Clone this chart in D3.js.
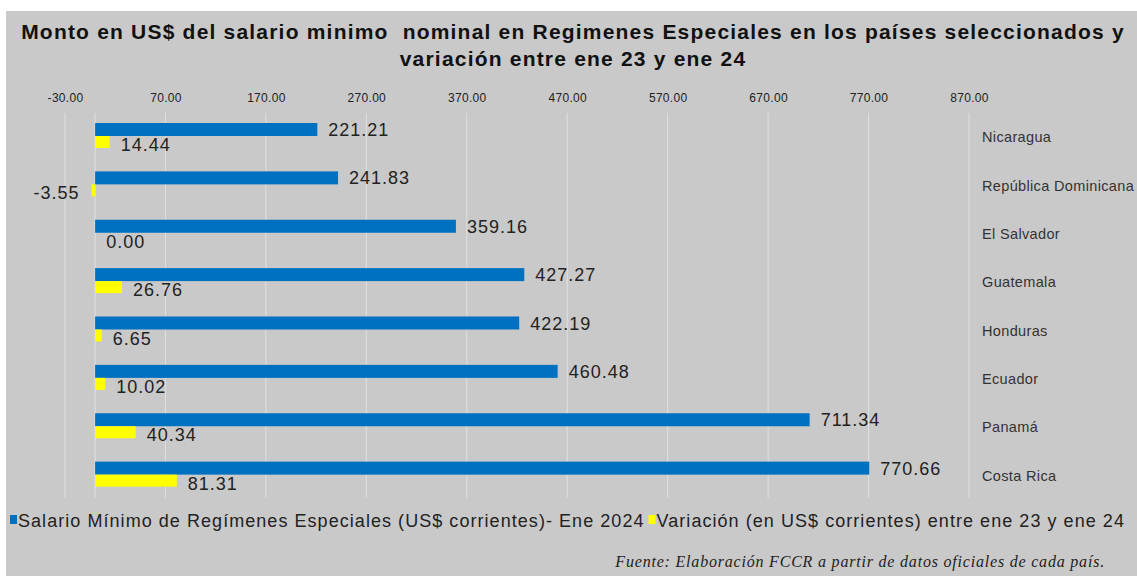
<!DOCTYPE html>
<html>
<head>
<meta charset="utf-8">
<script src="https://cdn.jsdelivr.net/npm/d3@7"></script>
<style>
  body { margin: 0; background: #fff; }
  svg { display: block; }
</style>
</head>
<body>
<div id="chart"></div>
<script>
var countries = ["Nicaragua", "República Dominicana", "El Salvador", "Guatemala", "Honduras", "Ecuador", "Panamá", "Costa Rica"];
var salario = [221.21, 241.83, 359.16, 427.27, 422.19, 460.48, 711.34, 770.66];
var variacion = [14.44, -3.55, 0.00, 26.76, 6.65, 10.02, 40.34, 81.31];
var x_ticks = [-30, 70, 170, 270, 370, 470, 570, 670, 770, 870];
var series_names = ["Salario Mínimo de Regímenes Especiales (US$ corrientes)- Ene 2024",
                    "Variación (en US$ corrientes) entre ene 23 y ene 24"];
var series_colors = ["#0070c0", "#ffff00"];

var width = 1137;
var height = 576;

// plain hyphen for negatives, like the original
var fmt = function(v) { return d3.format(".2f")(v).replace("\u2212", "-"); };

var svg = d3.select("#chart")
    .append("svg")
    .attr("width", width)
    .attr("height", height);

// grey panel, white strip on top and left
svg.append("rect")
    .attr("x", 6).attr("y", 11)
    .attr("width", width - 6).attr("height", height - 11)
    .attr("fill", "#c9c9c9");

var title_lines = ["Monto en US$ del salario minimo  nominal en Regimenes Especiales en los países seleccionados y",
                   "variación entre ene 23 y ene 24"];
svg.selectAll("text.title")
    .data(title_lines)
    .enter()
    .append("text")
    .attr("class", "title")
    .attr("x", 573)
    .attr("y", function(d, i) { return 39 + i * 27; })
    .attr("text-anchor", "middle")
    .style("font-family", "Liberation Sans, Arial, sans-serif")
    .style("font-weight", "bold")
    .style("font-size", "21px")
    .style("letter-spacing", "1.2px")
    .style("white-space", "pre")
    .attr("fill", "#111")
    .text(function(d) { return d; });

var x = d3.scaleLinear()
    .domain([-30, 870])
    .range([65, 969]);

var y = d3.scaleBand()
    .domain(countries)
    .range([113, 500])
    .paddingInner(0.0);

var bar_h = 13;
var bar_top = function(d) { return y(d) + 10; };

// gridlines
svg.append("g")
    .selectAll("line")
    .data(x_ticks.concat([0]))
    .enter()
    .append("line")
    .attr("x1", function(d) { return x(d); })
    .attr("x2", function(d) { return x(d); })
    .attr("y1", 113)
    .attr("y2", 498)
    .attr("stroke", "#e0e0e0")
    .attr("stroke-width", 1);

// top axis labels
var x_axis = d3.axisTop(x)
    .tickValues(x_ticks)
    .tickFormat(fmt)
    .tickSize(0)
    .tickPadding(0);
var ax = svg.append("g")
    .attr("transform", "translate(0,102)")
    .call(x_axis);
ax.select(".domain").remove();
ax.selectAll("text")
    .style("font-family", "Liberation Sans, Arial, sans-serif")
    .style("font-size", "12px")
    .style("letter-spacing", "0.3px")
    .attr("fill", "#222");

// blue bars
svg.append("g")
    .selectAll("rect")
    .data(countries)
    .enter()
    .append("rect")
    .attr("x", x(0))
    .attr("y", function(d) { return bar_top(d); })
    .attr("width", function(d, i) { return x(salario[i]) - x(0); })
    .attr("height", bar_h)
    .attr("fill", series_colors[0]);

// yellow bars
svg.append("g")
    .selectAll("rect")
    .data(countries)
    .enter()
    .append("rect")
    .attr("x", function(d, i) { return Math.min(x(0), x(variacion[i])); })
    .attr("y", function(d) { return bar_top(d) + bar_h; })
    .attr("width", function(d, i) { return Math.abs(x(variacion[i]) - x(0)); })
    .attr("height", 12)
    .attr("fill", series_colors[1]);

var label_style = function(sel) {
    sel.style("font-family", "Liberation Sans, Arial, sans-serif")
        .style("font-size", "18px")
        .style("letter-spacing", "1px")
        .attr("fill", "#222");
};

svg.append("g")
    .selectAll("text")
    .data(countries)
    .enter()
    .append("text")
    .attr("x", function(d, i) { return x(salario[i]) + 11; })
    .attr("y", function(d) { return bar_top(d) + 13; })
    .text(function(d, i) { return fmt(salario[i]); })
    .call(label_style);

svg.append("g")
    .selectAll("text")
    .data(countries)
    .enter()
    .append("text")
    .attr("x", function(d, i) {
        return variacion[i] < 0 ? x(variacion[i]) - 12 : x(variacion[i]) + 11;
    })
    .attr("text-anchor", function(d, i) { return variacion[i] < 0 ? "end" : "start"; })
    .attr("y", function(d) { return bar_top(d) + 28; })
    .text(function(d, i) { return fmt(variacion[i]); })
    .call(label_style);

// category labels at right
svg.append("g")
    .selectAll("text")
    .data(countries)
    .enter()
    .append("text")
    .attr("x", 982)
    .attr("y", function(d) { return y(d) + y.bandwidth() / 2 + 5; })
    .text(function(d) { return d; })
    .style("font-family", "Liberation Sans, Arial, sans-serif")
    .style("font-size", "14.5px")
    .style("letter-spacing", "0.35px")
    .attr("fill", "#333");

// legend
var legend = svg.append("g");
var leg_x = 10;
series_names.forEach(function(name, i) {
    legend.append("rect")
        .attr("x", leg_x).attr("y", 515)
        .attr("width", 7).attr("height", 9)
        .attr("fill", series_colors[i]);
    var t = legend.append("text")
        .attr("x", leg_x + 8).attr("y", 527)
        .text(name)
        .call(label_style)
        .style("letter-spacing", "1.05px");
    leg_x = leg_x + 8 + t.node().getComputedTextLength() + 4;
});

svg.append("text")
    .attr("x", 1105)
    .attr("y", 567)
    .attr("text-anchor", "end")
    .style("font-family", "Liberation Serif, Times New Roman, serif")
    .style("font-style", "italic")
    .style("font-size", "16px")
    .style("letter-spacing", "0.8px")
    .attr("fill", "#222")
    .text("Fuente: Elaboración FCCR a partir de datos oficiales de cada país.");
</script>
</body>
</html>
